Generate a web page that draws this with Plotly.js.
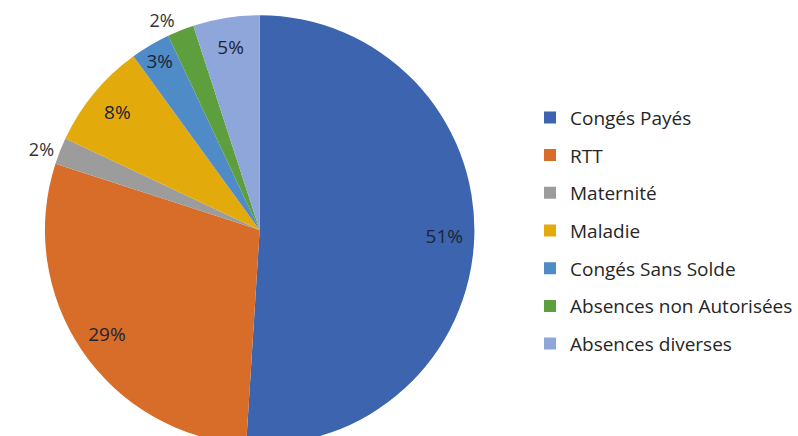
<!DOCTYPE html>
<html>
<head>
<meta charset="utf-8">
<script src="https://cdn.plot.ly/plotly-3.0.1.min.js"></script>
<style>
html,body{margin:0;padding:0;background:#fff;overflow:hidden;}
#chart{width:798px;height:446px;}
</style>
</head>
<body>
<div id="chart"></div>
<script>
const categories = ["Congés Payés", "RTT", "Maternité", "Maladie", "Congés Sans Solde", "Absences non Autorisées", "Absences diverses"];
const values = [51, 29, 2, 8, 3, 2, 5];
const colors = ["#3D64AE", "#D86D2A", "#9C9C9C", "#E3AA0C", "#4E8BC7", "#5E9F3D", "#8FA6DA"];
const labelPositions = ["inside", "inside", "outside", "inside", "inside", "outside", "inside"];

const FONT = "'Open Sans', 'Noto Sans', sans-serif";
const DOMAIN = {x: [45/798, 475/798], y: [0.0022, 0.9664]};

// filled pie (no text)
const pie = {
  type: "pie",
  labels: categories,
  values: values,
  sort: false,
  direction: "clockwise",
  rotation: 0,
  marker: {colors: colors, line: {width: 0}},
  textinfo: "none",
  showlegend: false,
  hoverinfo: "label+percent",
  domain: DOMAIN
};

// transparent ring carrying the percentage labels near the outer edge
const labelRing = {
  type: "pie",
  labels: categories,
  values: values,
  sort: false,
  direction: "clockwise",
  rotation: 0,
  hole: 0.72,
  marker: {colors: categories.map(() => "rgba(0,0,0,0)"), line: {width: 0}},
  texttemplate: "%{percent:.0%}",
  textposition: labelPositions,
  insidetextorientation: "horizontal",
  textfont: {family: FONT, size: 19, color: "#1c2436"},
  outsidetextfont: {family: FONT, size: 18, color: "#333333"},
  showlegend: false,
  hoverinfo: "skip",
  domain: DOMAIN
};

const legendTraces = categories.map((c, i) => ({
  type: "scatter",
  mode: "markers",
  x: [null], y: [null],
  name: c,
  legendgroup: "g" + i,
  marker: {symbol: "square", size: 12, color: colors[i]},
  hoverinfo: "skip"
}));

const layout = {
  width: 798, height: 446,
  margin: {l: 0, r: 0, t: 0, b: 0},
  paper_bgcolor: "#ffffff",
  plot_bgcolor: "#ffffff",
  xaxis: {visible: false},
  yaxis: {visible: false},
  showlegend: true,
  legend: {
    x: 0.665, y: 0.779, xanchor: "left", yanchor: "top",
    font: {family: FONT, size: 19, color: "#262626"},
    tracegroupgap: 10,
    bgcolor: "rgba(0,0,0,0)"
  }
};

Plotly.newPlot("chart", [pie, labelRing].concat(legendTraces), layout, {staticPlot: true});
</script>
</body>
</html>
